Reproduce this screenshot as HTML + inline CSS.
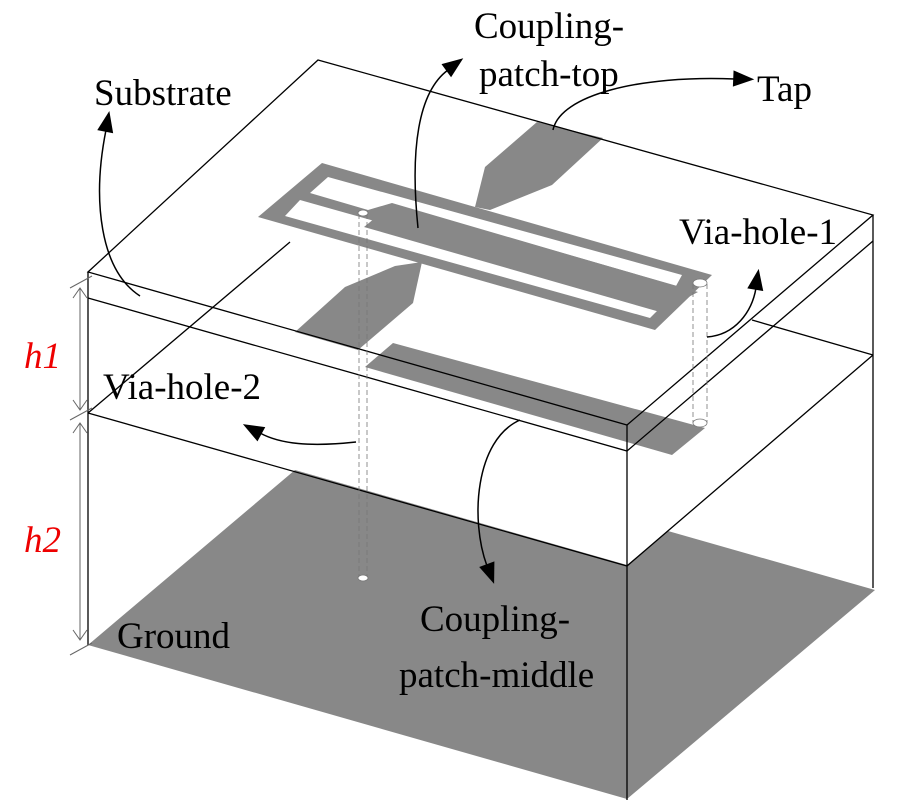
<!DOCTYPE html>
<html><head><meta charset="utf-8"><style>
html,body{margin:0;padding:0;background:#fff;}
svg{display:block;}
text{font-family:"Liberation Serif",serif;font-size:37px;fill:#000;}
</style></head><body>
<svg width="901" height="800" viewBox="0 0 901 800" xmlns="http://www.w3.org/2000/svg">
<defs>
<marker id="ah" viewBox="0 0 10 10" refX="2" refY="5" markerWidth="9" markerHeight="9" markerUnits="userSpaceOnUse" orient="auto" style="overflow:visible">
<path d="M0,-5 L26,5 L0,15 Z" fill="#000" transform="scale(0.9)"/>
</marker>
</defs>
<!-- ground -->
<polygon points="88,645 295,470 627,565 668,531 875,590 627,799" fill="#888"/>
<!-- feed lines -->
<polygon points="537,122 603,138 552,185 490,210 475,207 485,167" fill="#888"/>
<polygon points="395,266 422,262 413,303 358,350 295,332 345,287" fill="#888"/>
<!-- top patch frame -->
<polygon points="258,217 322,163 712,275 655,330" fill="#888"/>
<polygon points="328,177 310,193 368,210 392,203 676,286 682,275" fill="#fff"/>
<polygon points="300,200 392,226 662,306 650,318 285,216" fill="#fff"/>
<polygon points="364,227 392,204 698,292 660,312" fill="#888"/>
<!-- middle patch -->
<polygon points="365,367 393,343 705,428 672,455" fill="#888"/>
<!-- box lines -->
<g stroke="#000" stroke-width="1.3" fill="none">
<polygon points="318,60 873,215 627,425 88,272"/>
<polyline points="88,298 627,451 873,241"/>
<polyline points="88,413 627,566 873,355"/>
<line x1="752" y1="320" x2="873" y2="355"/>
<line x1="88" y1="413" x2="290" y2="242"/>
<line x1="88" y1="272" x2="88" y2="645"/>
<line x1="627" y1="425" x2="627" y2="800"/>
<line x1="873" y1="215" x2="873" y2="588"/>
</g>
<!-- vias -->
<g stroke="#777" stroke-width="0.8" fill="none" stroke-dasharray="5,3">
<line x1="359" y1="214" x2="359" y2="578"/>
<line x1="367" y1="214" x2="367" y2="578"/>
<line x1="693" y1="284" x2="693" y2="423"/>
<line x1="707" y1="284" x2="707" y2="423"/>
</g>
<g stroke="#777" stroke-width="0.8" fill="#fff">
<ellipse cx="363" cy="213" rx="5" ry="3"/>
<ellipse cx="363" cy="578" rx="5" ry="3"/>
<ellipse cx="700" cy="283" rx="7" ry="4"/>
<ellipse cx="700" cy="423" rx="7" ry="4"/>
</g>
<!-- dimension -->
<g stroke="#666" stroke-width="1" fill="none">
<line x1="80" y1="288" x2="80" y2="410"/>
<line x1="80" y1="423" x2="80" y2="640"/>
<polyline points="73,298 80,288 87,298"/>
<polyline points="73,400 80,410 87,400"/>
<polyline points="73,433 80,423 87,433"/>
<polyline points="73,630 80,640 87,630"/>
<line x1="70" y1="288" x2="92" y2="276"/>
<line x1="70" y1="420" x2="92" y2="408"/>
<line x1="70" y1="655" x2="92" y2="643"/>
</g>
<!-- arrows -->
<g stroke="#000" stroke-width="1.5" fill="none" marker-end="url(#ah)">
<path d="M140,296 C100,270 92,200 106,130"/>
<path d="M418,228 C410,150 418,92 448,70"/>
<path d="M553,130 C560,95 640,75 735,79"/>
<path d="M707,337 C735,335 752,312 756,288"/>
<path d="M356,442 C310,447 280,444 260,433"/>
<path d="M520,420 C475,440 470,520 487,566"/>
</g>
<!-- labels -->
<text x="94" y="105">Substrate</text>
<text x="474" y="38">Coupling-</text>
<text x="479" y="86">patch-top</text>
<text x="757" y="101">Tap</text>
<text x="679" y="244">Via-hole-1</text>
<text x="103" y="399">Via-hole-2</text>
<text x="117" y="648">Ground</text>
<text x="420" y="631">Coupling-</text>
<text x="399" y="687">patch-middle</text>
<text x="24" y="368" style="fill:#e00;font-style:italic">h1</text>
<text x="24" y="552" style="fill:#e00;font-style:italic">h2</text>
</svg>
</body></html>
